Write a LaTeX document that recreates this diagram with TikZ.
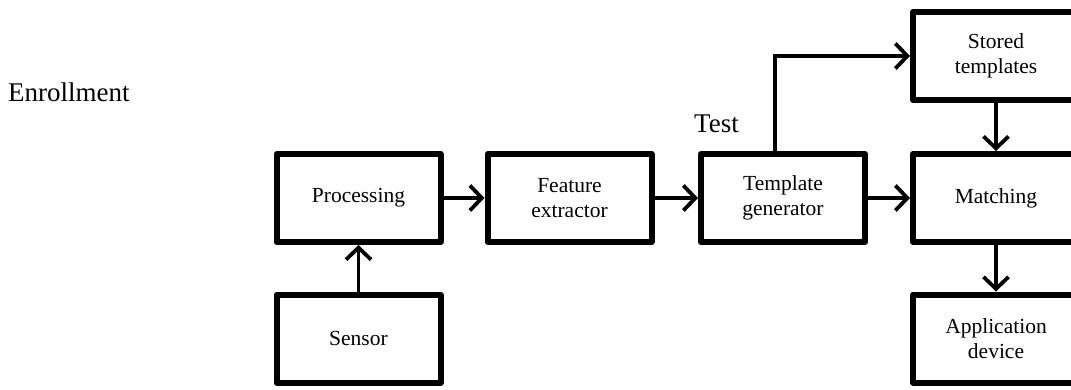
\documentclass[tikz,border=0pt]{standalone}
\usepackage{fontspec}
\setmainfont{Liberation Serif}
\usetikzlibrary{arrows.meta}
\begin{document}
\begin{tikzpicture}[x=1pt,y=-1pt,
  blk/.style={draw, line width=6pt, line join=round, rectangle, minimum width=164pt, minimum height=88pt, inner sep=0pt, align=center, font=\fontsize{21.5}{24.5}\selectfont},
  conn/.style={line width=3.8pt, -{Straight Barb[length=12pt,width=25pt,line width=3.8pt]}},
  lbl/.style={inner sep=0pt, font=\fontsize{27}{32}\selectfont}]
\useasboundingbox (0,0) rectangle (1071,389);
\node[lbl, anchor=west] (enr) at (8,92) {Enrollment};
\node[lbl, anchor=west] (test) at (694,124) {Test};
\node[blk] (proc) at (358.5,198) {Processing};
\node[blk] (sens) at (358.5,338.5) {Sensor};
\node[blk] (feat) at (569.5,198) {Feature\\extractor};
\node[blk] (tgen) at (783,198) {Template\\generator};
\node[blk, minimum width=166pt] (match) at (996,198) {Matching};
\node[blk, minimum width=166pt] (stor) at (996,56) {Stored\\templates};
\node[blk, minimum width=166pt] (app) at (996,338.5) {Application\\device};
\draw[conn] (sens) -- (proc);
\draw[conn] (proc) -- (feat);
\draw[conn] (feat) -- (tgen);
\draw[conn] (tgen) -- (match);
\draw[conn] (stor) -- (match);
\draw[conn] (match) -- (app);
\coordinate (tg) at ([xshift=-8pt]tgen.north);
\draw[conn] (tg) |- (stor.west);
\end{tikzpicture}
\end{document}
